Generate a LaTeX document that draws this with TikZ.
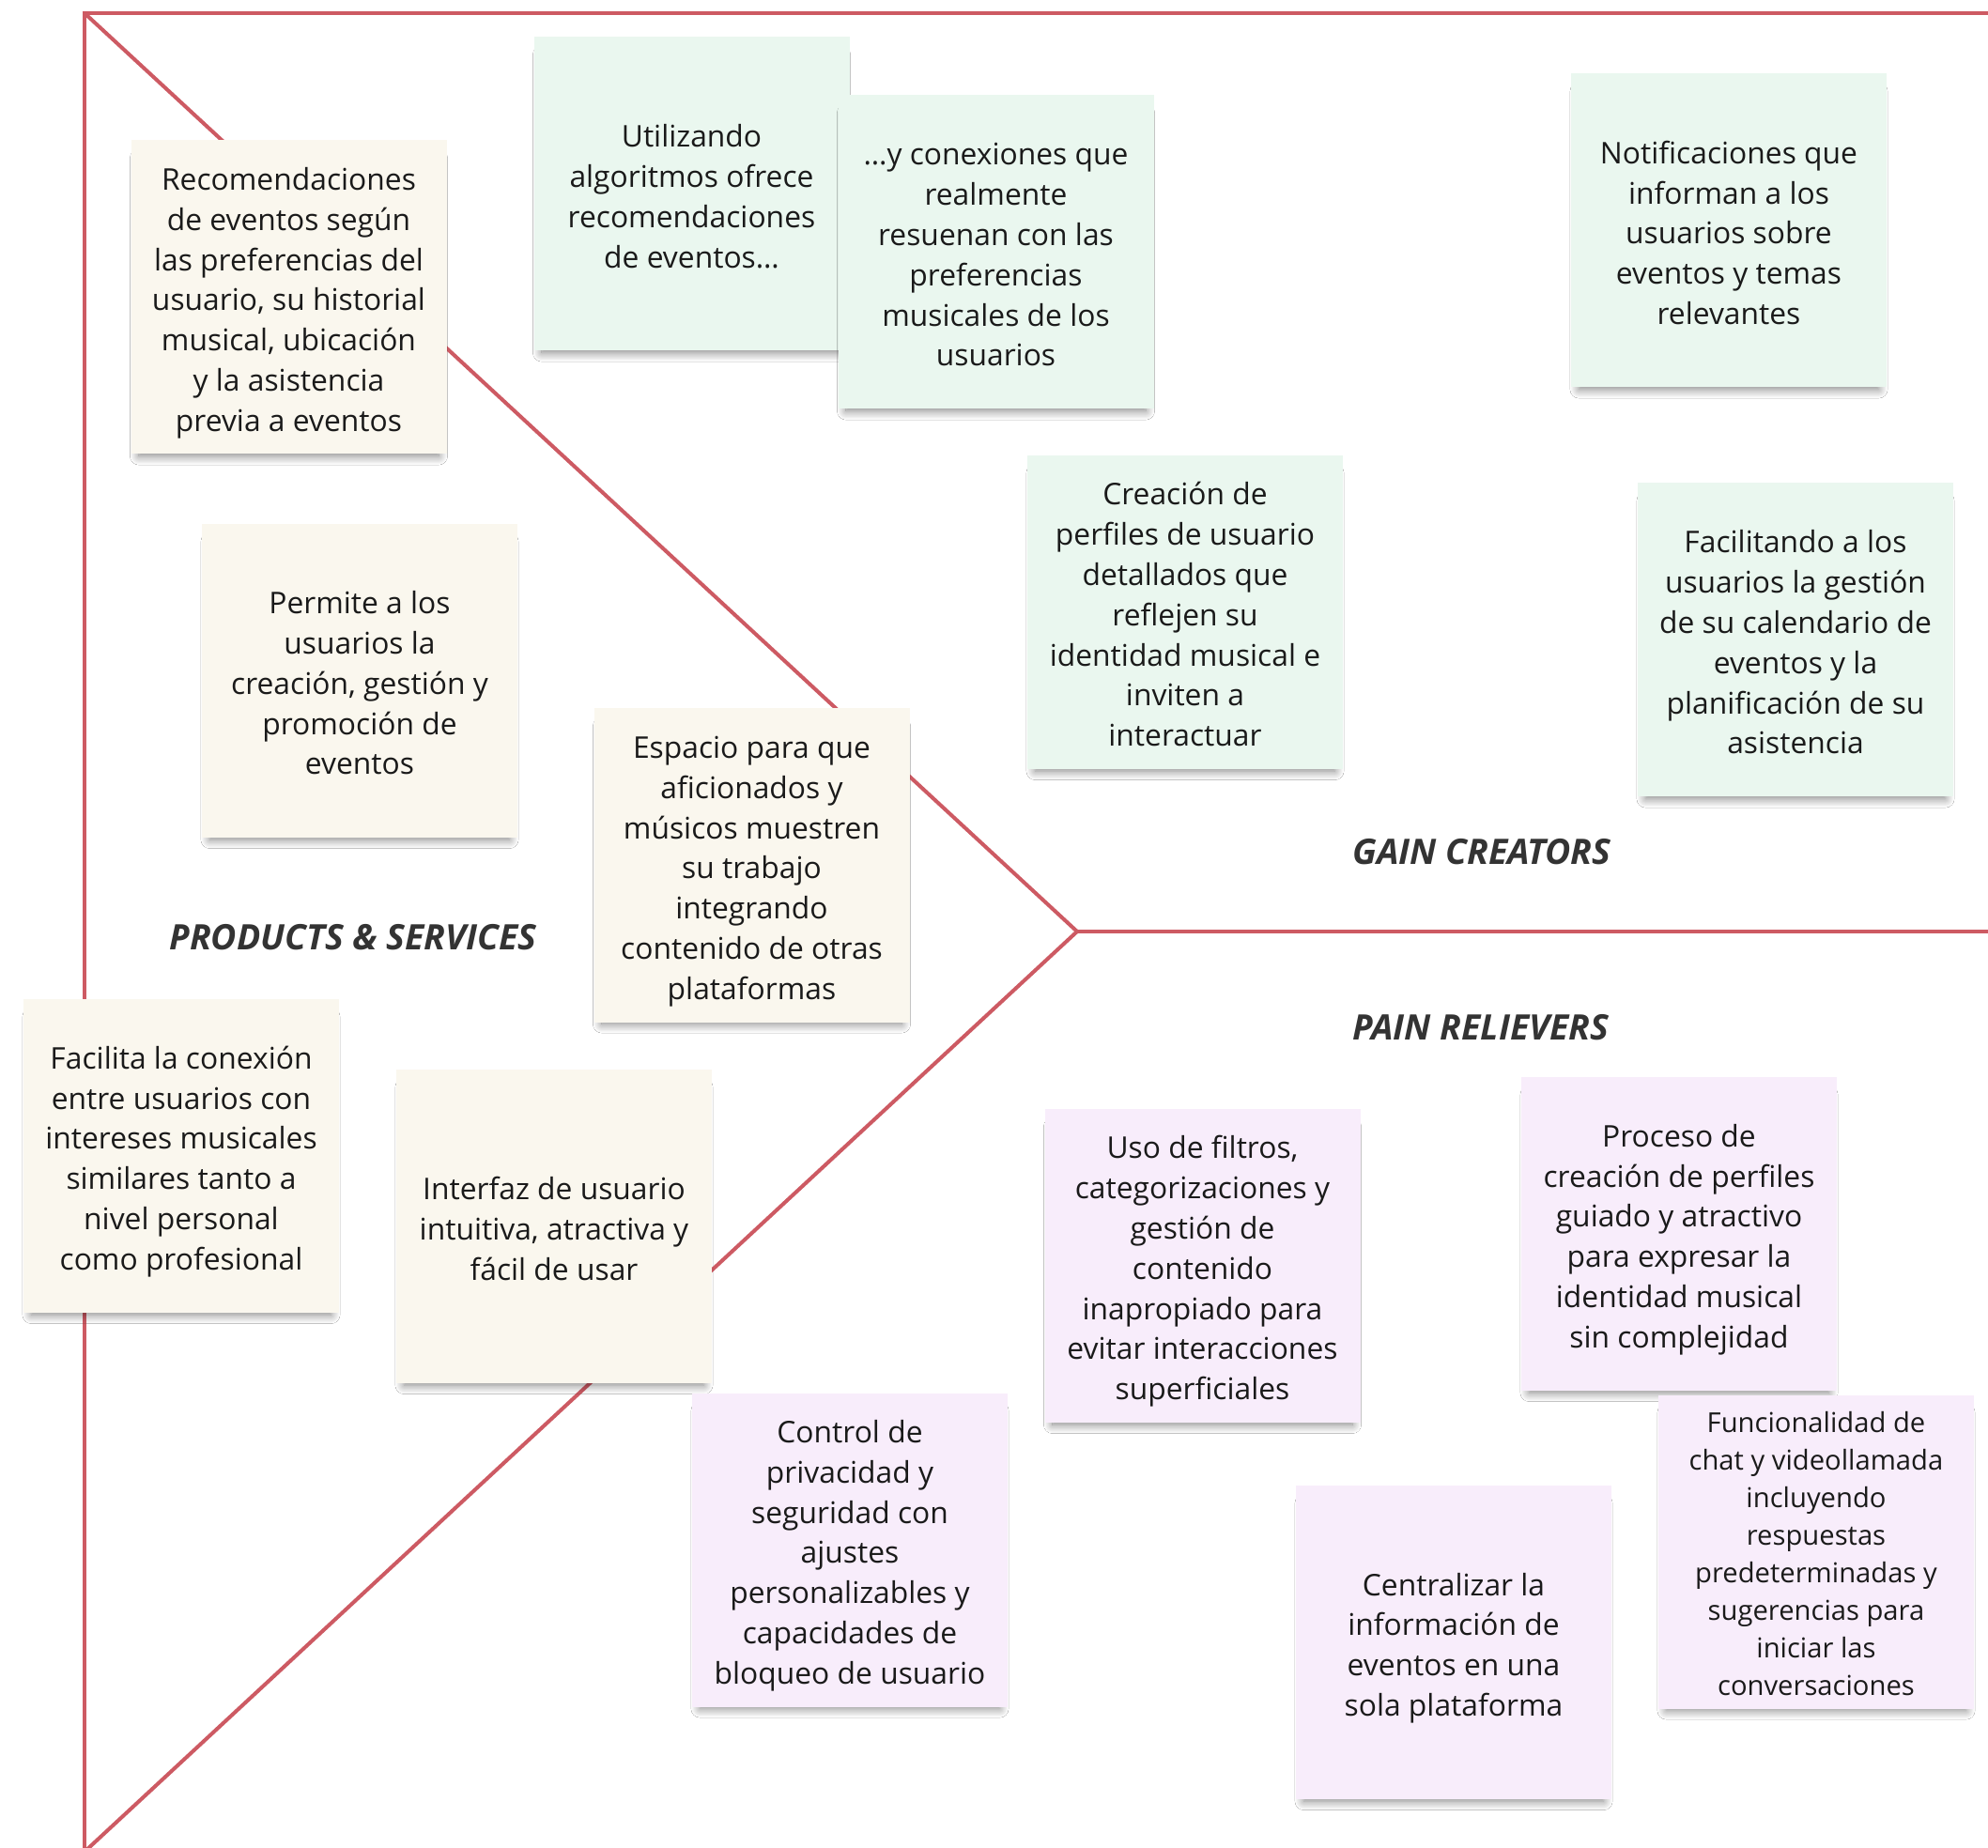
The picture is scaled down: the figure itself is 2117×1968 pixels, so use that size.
\documentclass[tikz,border=0pt]{standalone}
\usepackage{fontspec}
\setmainfont{Open Sans}
\usetikzlibrary{shadows.blur}

\definecolor{framered}{HTML}{CD5A63}
\definecolor{cream}{HTML}{FAF7EE}
\definecolor{mint}{HTML}{EAF7EF}
\definecolor{lilac}{HTML}{F8EDFB}
\definecolor{ink}{HTML}{333333}
\definecolor{notetext}{HTML}{1A1A1A}

% centred block of #1 lines whose middle baseline sits slightly below the node centre
\newcommand\notebody[2]{%
  \raisebox{\dimexpr\baselineskip*(#1-1)/2-0.45em\relax}[0pt][0pt]{%
    \begin{tabular}[t]{@{}c@{}}#2\end{tabular}}}

\tikzset{
  frameline/.style={draw=framered, line width=2pt},
  sticky/.style={minimum width=168pt, minimum height=167pt, inner sep=0pt,
    text=notetext, font=\fontsize{15.9}{21.4}\selectfont,
    blur shadow={shadow xshift=0pt, shadow yshift=-5.5pt, shadow scale=0.95,
      shadow blur radius=5pt, shadow blur steps=12, shadow opacity=50}},
  product/.style={sticky, fill=cream},
  gain/.style={sticky, fill=mint},
  pain/.style={sticky, fill=lilac},
  heading/.style={anchor=west, inner sep=0pt, text=ink,
    font=\bfseries\itshape\fontsize{18.7}{23}\selectfont}
}

\begin{document}
\begin{tikzpicture}[x=0.5pt, y=-0.5pt]
  \fill[white] (0,0) rectangle (2117,1968);
  \useasboundingbox (0,0) rectangle (2117,1968);

  % canvas outline: square on the right, triangle on the left
  \coordinate (tl) at (90,14);
  \coordinate (tr) at (2117,14);
  \coordinate (apex) at (1147,992);
  \coordinate (mr) at (2117,992);
  \coordinate (bl) at (90,1972);
  \draw[frameline] (tr) -- (tl) -- (bl);
  \draw[frameline] (tl) -- (apex) -- (bl);
  \draw[frameline] (apex) -- (mr);

  % section headings
  \node[heading] (hps) at (180,998) {PRODUCTS \& SERVICES};
  \node[heading] (hgc) at (1440,907) {GAIN CREATORS};
  \node[heading] (hpr) at (1440,1094) {PAIN RELIEVERS};

  % products & services
  \node[product] (p1) at (307.5,316.5) {\notebody{7}{Recomendaciones\\de eventos según\\las preferencias del\\usuario, su historial\\musical, ubicación\\y la asistencia\\previa a eventos}};
  \node[product] (p2) at (383,725) {\notebody{5}{Permite a los\\usuarios la\\creación, gestión y\\promoción de\\eventos}};
  \node[product] (p3) at (800.5,921.5) {\notebody{7}{Espacio para que\\aficionados y\\músicos muestren\\su trabajo\\integrando\\contenido de otras\\plataformas}};
  \node[product] (p4) at (193,1231) {\notebody{6}{Facilita la conexión\\entre usuarios con\\intereses musicales\\similares tanto a\\nivel personal\\como profesional}};
  \node[product] (p5) at (590,1306) {\notebody{3}{Interfaz de usuario\\intuitiva, atractiva y\\fácil de usar}};

  % gain creators
  \node[gain] (g1) at (736.5,206.5) {\notebody{4}{Utilizando\\algoritmos ofrece\\recomendaciones\\de eventos…}};
  \node[gain] (g2) at (1060.5,268.5) {\notebody{6}{…y conexiones que\\realmente\\resuenan con las\\preferencias\\musicales de los\\usuarios}};
  \node[gain] (g3) at (1841,245.5) {\notebody{5}{Notificaciones que\\informan a los\\usuarios sobre\\eventos y temas\\relevantes}};
  \node[gain] (g4) at (1262,652) {\notebody{7}{Creación de\\perfiles de usuario\\detallados que\\reflejen su\\identidad musical e\\inviten a\\interactuar}};
  \node[gain] (g5) at (1912,681.5) {\notebody{6}{Facilitando a los\\usuarios la gestión\\de su calendario de\\eventos y la\\planificación de su\\asistencia}};

  % pain relievers
  \node[pain] (r1) at (905,1650.5) {\notebody{7}{Control de\\privacidad y\\seguridad con\\ajustes\\personalizables y\\capacidades de\\bloqueo de usuario}};
  \node[pain] (r2) at (1280.5,1348) {\notebody{7}{Uso de filtros,\\categorizaciones y\\gestión de\\contenido\\inapropiado para\\evitar interacciones\\superficiales}};
  \node[pain] (r3) at (1788,1314) {\notebody{6}{Proceso de\\creación de perfiles\\guiado y atractivo\\para expresar la\\identidad musical\\sin complejidad}};
  \node[pain] (r4) at (1548,1749) {\notebody{4}{Centralizar la\\información de\\eventos en una\\sola plataforma}};
  \node[pain, font=\fontsize{14.6}{20}\selectfont] (r5) at (1934,1652.5) {\notebody{8}{Funcionalidad de\\chat y videollamada\\incluyendo\\respuestas\\predeterminadas y\\sugerencias para\\iniciar las\\conversaciones}};
\end{tikzpicture}
\end{document}
